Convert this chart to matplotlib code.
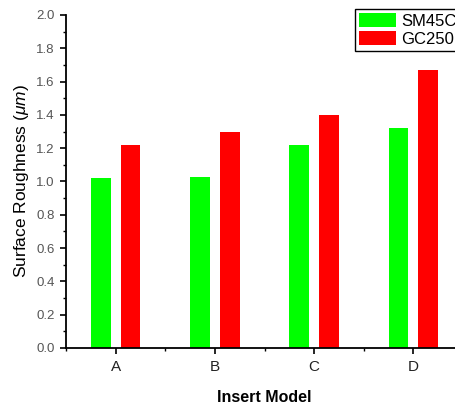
import numpy as np
import matplotlib
matplotlib.use("Agg")
import matplotlib.pyplot as plt
from matplotlib.ticker import MultipleLocator

plt.rcParams['font.family'] = ['Liberation Sans', 'DejaVu Sans']
plt.rcParams['mathtext.fontset'] = 'custom'
plt.rcParams['mathtext.it'] = 'Liberation Sans:italic'
plt.rcParams['mathtext.rm'] = 'Liberation Sans'

# data
models = ['A', 'B', 'C', 'D']
sm45c = [1.02, 1.03, 1.22, 1.32]
gc250 = [1.22, 1.30, 1.40, 1.67]

fig = plt.figure(figsize=(4.56, 4.07), dpi=100)
# axes runs a little past the right edge, like the cropped original
ax = fig.add_axes([66/456, 1 - 348/407, 397/456, 333/407])

x = np.arange(1, len(models) + 1)
w = 0.2
ax.bar(x - 0.15, sm45c, w, color='#00ff00', label='SM45C')
ax.bar(x + 0.15, gc250, w, color='#ff0000', label='GC250')

ax.set_xlim(0.5, 4.5)
ax.set_ylim(0, 2.0)
ax.set_xticks(x)
ax.set_xticklabels(models, fontsize=11, color='#222222')
ax.xaxis.set_minor_locator(MultipleLocator(1.0, offset=0.5))
ax.yaxis.set_major_locator(MultipleLocator(0.2))
ax.yaxis.set_minor_locator(MultipleLocator(0.1))
ax.yaxis.set_major_formatter(matplotlib.ticker.FormatStrFormatter('%.1f'))

for s in ['top', 'right']:
    ax.spines[s].set_visible(False)
for s in ['left', 'bottom']:
    ax.spines[s].set_linewidth(1.3)

ax.tick_params(which='major', direction='out', length=4.5, width=1.2)
ax.tick_params(which='minor', direction='out', length=2.5, width=1.0)
ax.tick_params(axis='y', labelsize=9.5, labelcolor='#555555')
ax.tick_params(axis='x', pad=4)

ax.set_xlabel('Insert Model', fontsize=11.5, fontweight='bold', labelpad=12)
ax.set_ylabel(r'Surface Roughness ($\mu m$)', fontsize=12.5, labelpad=4)

leg = fig.legend(loc='upper left', bbox_to_anchor=(355/456, 1 - 9/407),
                 fontsize=12, frameon=True, fancybox=False, framealpha=1,
                 edgecolor='black', handlelength=2.2, handleheight=0.9,
                 handletextpad=0.3, borderpad=0.25, labelspacing=0.15,
                 borderaxespad=0)
leg.get_frame().set_linewidth(1.0)

fig.savefig('out.png', dpi=100)
